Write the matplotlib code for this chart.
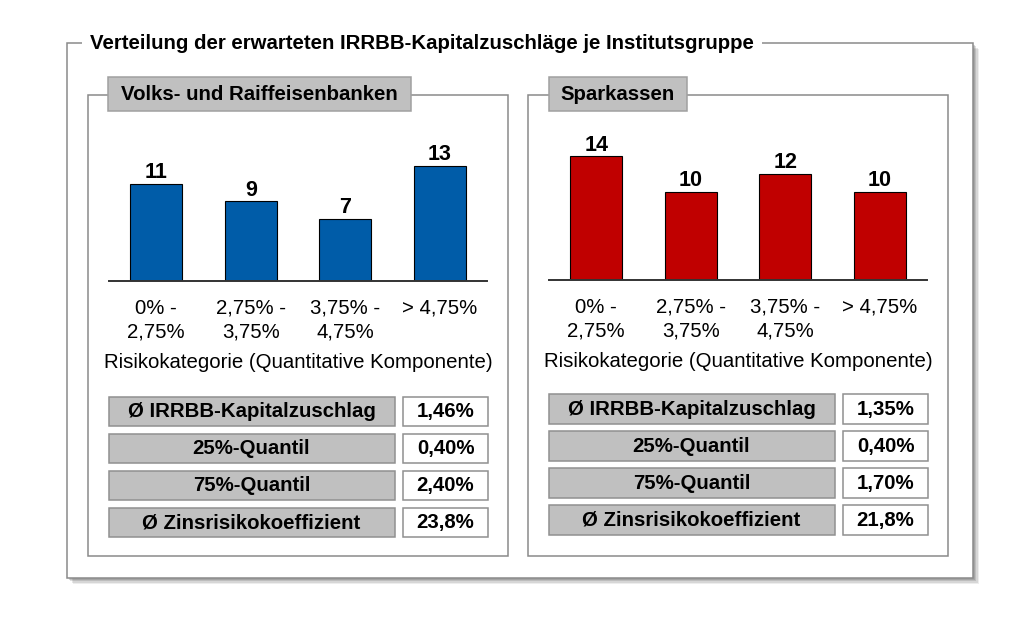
import matplotlib.pyplot as plt
from matplotlib.patches import Rectangle

plt.rcParams['font.family'] = ['Liberation Sans', 'DejaVu Sans']

title = 'Verteilung der erwarteten IRRBB-Kapitalzuschläge je Institutsgruppe'
categories = ['0% -\n2,75%', '2,75% -\n3,75%', '3,75% -\n4,75%', '> 4,75%']
xlabel = 'Risikokategorie (Quantitative Komponente)'

groups = ['Volks- und Raiffeisenbanken', 'Sparkassen']
counts_vr = [11, 9, 7, 13]
counts_spk = [14, 10, 12, 10]
bar_colors = ['#005CA8', '#C00000']

stat_labels = ['Ø IRRBB-Kapitalzuschlag', '25%-Quantil', '75%-Quantil',
               'Ø Zinsrisikokoeffizient']
stats_vr = ['1,46%', '0,40%', '2,40%', '23,8%']
stats_spk = ['1,35%', '0,40%', '1,70%', '21,8%']

W, H = 1024, 629
fig = plt.figure(figsize=(W / 100, H / 100), dpi=100)

# overlay axes in pixel coordinates for frames and tables
ov = fig.add_axes([0, 0, 1, 1], zorder=0)
ov.set_xlim(0, W)
ov.set_ylim(H, 0)
ov.axis('off')

edge = '#8A8A8A'
fs = 14.7

# outer frame with soft shadow
for i, a in enumerate([0.10, 0.14, 0.18, 0.22]):
    d = 6 - i * 1.3
    ov.add_patch(Rectangle((67 + d, 43 + d), 906, 535, facecolor='#505050',
                           edgecolor='none', alpha=a))
ov.add_patch(Rectangle((67, 43), 906, 535, facecolor='white', edgecolor=edge,
                       lw=1.1))
ov.text(90, 43.5, title, fontsize=fs, fontweight='bold', va='center',
        ha='left', bbox=dict(facecolor='white', edgecolor='none', pad=6))

panels = [
    dict(x=88, name=groups[0], box=(108, 411), counts=counts_vr,
         stats=stats_vr, color=bar_colors[0], base=280.5, row0=411.3),
    dict(x=528, name=groups[1], box=(549, 687), counts=counts_spk,
         stats=stats_spk, color=bar_colors[1], base=279.5, row0=409.0),
]

for p in panels:
    x0 = p['x']
    ov.add_patch(Rectangle((x0, 95), 420, 461, facecolor='white',
                           edgecolor=edge, lw=1.1))
    bx0, bx1 = p['box']
    ov.add_patch(Rectangle((bx0, 77), bx1 - bx0, 34, facecolor='#C0C0C0',
                           edgecolor='#A0A0A0', lw=1.1))
    ov.text((bx0 + bx1) / 2, 94.5, p['name'], fontsize=fs,
            fontweight='bold', ha='center', va='center')

    # stats table
    gx0 = x0 + 20.5
    vx0 = gx0 + 294.5
    for i, (lab, val) in enumerate(zip(stat_labels, p['stats'])):
        cy = p['row0'] + i * 37
        ov.add_patch(Rectangle((gx0, cy - 14.7), 286, 29.4,
                               facecolor='#C0C0C0', edgecolor='#909090',
                               lw=1.1))
        ov.add_patch(Rectangle((vx0, cy - 14.7), 85, 29.4,
                               facecolor='white', edgecolor='#909090',
                               lw=1.1))
        ov.text(gx0 + 143, cy + 0.5, lab, fontsize=fs, fontweight='bold',
                ha='center', va='center')
        ov.text(vx0 + 42.5, cy + 0.5, val, fontsize=fs, fontweight='bold',
                ha='center', va='center')

    # bar chart
    ax_h = 132
    ax = fig.add_axes([(x0 + 21) / W, (H - p['base']) / H, 378 / W, ax_h / H],
                      zorder=1)
    ax.patch.set_visible(False)
    bars = ax.bar(range(len(categories)), p['counts'], width=0.55,
                  color=p['color'], edgecolor='black', lw=0.8)
    ax.bar_label(bars, padding=0.5, fontsize=15.5, fontweight='bold')
    ax.set_xlim(-0.5, 3.5)
    ax.set_ylim(0, 15)
    ax.set_yticks([])
    ax.set_xticks(range(len(categories)))
    ax.set_xticklabels(categories, fontsize=fs, linespacing=1.33)
    ax.tick_params(axis='x', length=0, pad=13)
    for s in ('top', 'left', 'right'):
        ax.spines[s].set_visible(False)
    ax.spines['bottom'].set_color('#333333')
    ax.spines['bottom'].set_linewidth(1.4)
    ax.set_xlabel(xlabel, fontsize=fs, labelpad=8)

fig.savefig('out.png', dpi=100)
